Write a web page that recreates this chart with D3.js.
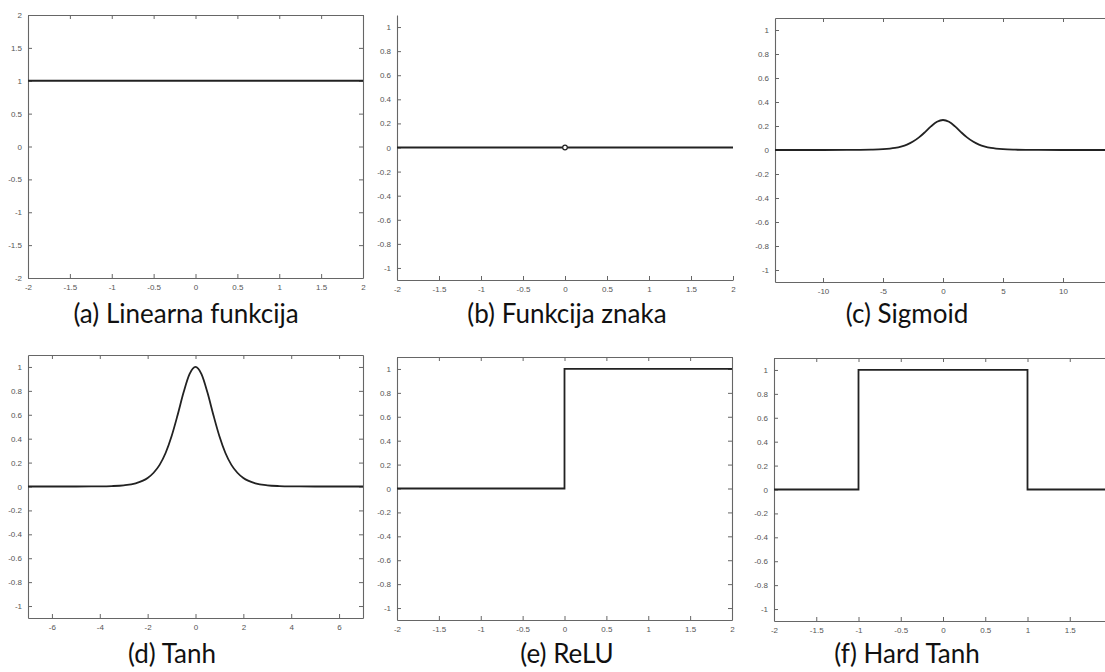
<!DOCTYPE html>
<html>
<head>
<meta charset="utf-8">
<script src="https://cdn.jsdelivr.net/npm/d3@7"></script>
<style>
  html, body { margin: 0; padding: 0; background: #fff; }
  svg { display: block; }
</style>
</head>
<body>
<svg id="chart" width="1105" height="672"></svg>
<script>
// ---------------- DATA ----------------
const captions = ["(a) Linearna funkcija", "(b) Funkcija znaka", "(c) Sigmoid",
                  "(d) Tanh", "(e) ReLU", "(f) Hard Tanh"];

// x / y tick values for each panel
const ticksX_a = [-2, -1.5, -1, -0.5, 0, 0.5, 1, 1.5, 2];
const ticksY_a = [-2, -1.5, -1, -0.5, 0, 0.5, 1, 1.5, 2];
const ticksX_b = [-2, -1.5, -1, -0.5, 0, 0.5, 1, 1.5, 2];
const ticksX_f = [-2, -1.5, -1, -0.5, 0, 0.5, 1, 1.5];   // "2" falls outside the visible picture
const ticksY_unit = [-1, -0.8, -0.6, -0.4, -0.2, 0, 0.2, 0.4, 0.6, 0.8, 1];
const ticksX_c = [-10, -5, 0, 5, 10];
const ticksX_d = [-6, -4, -2, 0, 2, 4, 6];

// (a) derivative of linear function
const linearX = [-2, 2];
const linearY = [1, 1];
// (b) derivative of sign function (hole at 0)
const signX = [-2, 2];
const signY = [0, 0];
const signHoleX = [0];
const signHoleY = [0];
// (c) derivative of sigmoid
const sigmoidX = [-14, -10, -8, -7, -6, -5, -4, -3.5, -3, -2.5, -2, -1.5, -1, -0.5, 0,
                  0.5, 1, 1.5, 2, 2.5, 3, 3.5, 4, 5, 6, 7, 8, 10, 14];
const sigmoidY = [0, 0, 0.0003, 0.0009, 0.0025, 0.0066, 0.018, 0.029, 0.045, 0.070, 0.105, 0.149, 0.197, 0.235, 0.25,
                  0.235, 0.197, 0.149, 0.105, 0.070, 0.045, 0.029, 0.018, 0.0066, 0.0025, 0.0009, 0.0003, 0, 0];
// (d) derivative of tanh
const tanhX = [-7, -5, -4, -3.5, -3, -2.5, -2, -1.75, -1.5, -1.25, -1, -0.75, -0.5, -0.25, 0,
               0.25, 0.5, 0.75, 1, 1.25, 1.5, 1.75, 2, 2.5, 3, 3.5, 4, 5, 7];
const tanhY = [0, 0.0002, 0.0013, 0.0036, 0.0099, 0.027, 0.071, 0.115, 0.181, 0.280, 0.420, 0.596, 0.786, 0.940, 1,
               0.940, 0.786, 0.596, 0.420, 0.280, 0.181, 0.115, 0.071, 0.027, 0.0099, 0.0036, 0.0013, 0.0002, 0];
// (e) derivative of ReLU
const reluX = [-2, 0, 0, 2];
const reluY = [0, 0, 1, 1];
// (f) derivative of hard tanh
const hardTanhX = [-2, -1, -1, 1, 1, 2];
const hardTanhY = [0, 0, 1, 1, 0, 0];

// ---------------- LAYOUT ----------------
const panels = [
  { box: [28, 15, 363, 278],  xd: [-2, 2],   yd: [-2, 2],     tx: ticksX_a, ty: ticksY_a,   xs: linearX,  ys: linearY,  smooth: false, frame: true,  cap: [186, 323] },
  { box: [397, 15, 733, 280], xd: [-2, 2],   yd: [-1.1, 1.1], tx: ticksX_b, ty: ticksY_unit, xs: signX,   ys: signY,    smooth: false, frame: false, cap: [567, 323], hole: true },
  { box: [775, 18, 1111, 282], xd: [-14, 14], yd: [-1.1, 1.1], tx: ticksX_c, ty: ticksY_unit, xs: sigmoidX, ys: sigmoidY, smooth: true, frame: true, cap: [907, 323] },
  { box: [28, 355, 363, 618], xd: [-7, 7],   yd: [-1.1, 1.1], tx: ticksX_d, ty: ticksY_unit, xs: tanhX,    ys: tanhY,    smooth: true,  frame: true,  cap: [172, 663] },
  { box: [397, 357, 732, 620], xd: [-2, 2],  yd: [-1.1, 1.1], tx: ticksX_b, ty: ticksY_unit, xs: reluX,    ys: reluY,    smooth: false, frame: true,  cap: [567, 663] },
  { box: [774, 358, 1112, 621], xd: [-2, 2], yd: [-1.1, 1.1], tx: ticksX_f, ty: ticksY_unit, xs: hardTanhX, ys: hardTanhY, smooth: false, frame: true, cap: [907, 663] }
];

const svg = d3.select("#chart");
svg.append("rect").attr("width", 1105).attr("height", 672).attr("fill", "#fff");

const axisColor = "#666";
const labelColor = "#555";
const fmt = v => String(v);

panels.forEach((p, i) => {
  const [x0, y0, x1, y1] = p.box;
  const x = d3.scaleLinear().domain(p.xd).range([x0, x1]);
  const y = d3.scaleLinear().domain(p.yd).range([y1, y0]);
  const g = svg.append("g");

  const styleAxis = sel => {
    sel.select(".domain").attr("stroke", axisColor).attr("stroke-width", 1.1);
    sel.selectAll(".tick line").attr("stroke", axisColor).attr("stroke-width", 1);
    sel.selectAll(".tick text").attr("fill", labelColor)
      .attr("font-family", "'Liberation Sans', Arial, sans-serif").attr("font-size", 8);
  };

  // bottom axis with inward ticks
  const bottom = g.append("g").attr("transform", `translate(0,${y1})`)
    .call(d3.axisBottom(x).tickValues(p.tx).tickFormat(fmt).tickSizeInner(-4).tickSizeOuter(0).tickPadding(6));
  styleAxis(bottom);
  // left axis with inward ticks
  const left = g.append("g").attr("transform", `translate(${x0},0)`)
    .call(d3.axisLeft(y).tickValues(p.ty).tickFormat(fmt).tickSizeInner(-4).tickSizeOuter(0).tickPadding(6));
  styleAxis(left);

  if (p.frame) {
    const top = g.append("g").attr("transform", `translate(0,${y0})`)
      .call(d3.axisTop(x).tickValues(p.tx).tickFormat("").tickSizeInner(-4).tickSizeOuter(0));
    styleAxis(top);
    const right = g.append("g").attr("transform", `translate(${x1},0)`)
      .call(d3.axisRight(y).tickValues(p.ty).tickFormat("").tickSizeInner(-4).tickSizeOuter(0));
    styleAxis(right);
  }

  const pts = p.xs.map((v, k) => [v, p.ys[k]]);
  const line = d3.line().x(d => x(d[0])).y(d => y(d[1]))
    .curve(p.smooth ? d3.curveMonotoneX : d3.curveLinear);
  g.append("path").datum(pts).attr("d", line)
    .attr("fill", "none").attr("stroke", "#222").attr("stroke-width", 1.8)
    .attr("stroke-linejoin", "miter");

  if (p.hole) {
    g.selectAll("circle.hole").data(signHoleX.map((v, k) => [v, signHoleY[k]]))
      .enter().append("circle")
      .attr("cx", d => x(d[0])).attr("cy", d => y(d[1])).attr("r", 2.3)
      .attr("fill", "#fff").attr("stroke", "#222").attr("stroke-width", 1.2);
  }

  svg.append("text").attr("x", p.cap[0]).attr("y", p.cap[1])
    .attr("text-anchor", "middle")
    .attr("font-family", "Lato, 'Open Sans', sans-serif").attr("font-size", 26)
    .attr("fill", "#111").text(captions[i]);
});
</script>
</body>
</html>
